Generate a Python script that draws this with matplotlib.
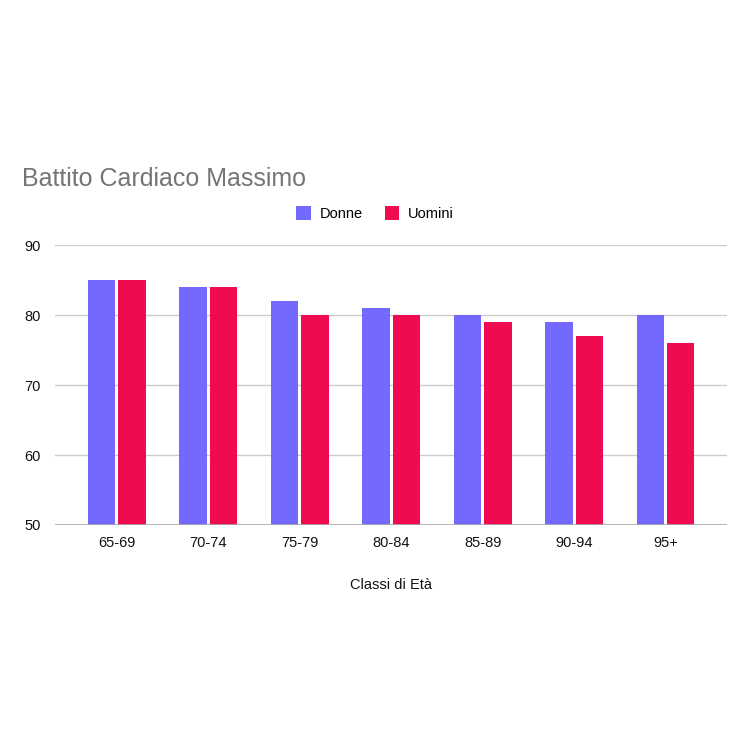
import numpy as np
import matplotlib.pyplot as plt

plt.rcParams["font.family"] = ["Liberation Sans", "DejaVu Sans"]

categories = ["65-69", "70-74", "75-79", "80-84", "85-89", "90-94", "95+"]
donne = [85, 84, 82, 81, 80, 79, 80]
uomini = [85, 84, 80, 80, 79, 77, 76]

COL_DONNE = "#7469FF"
COL_UOMINI = "#F00B51"

fig = plt.figure(figsize=(7.5, 7.5), dpi=100)
ax = fig.add_axes([0.073, 0.30, 0.896, 0.373])

x = np.arange(len(categories))
w = 0.30
gap = 0.017
ax.bar(x - w / 2 - gap, donne, width=w, color=COL_DONNE, label="Donne", zorder=3)
ax.bar(x + w / 2 + gap, uomini, width=w, color=COL_UOMINI, label="Uomini", zorder=3)

ax.set_ylim(50, 90)
ax.set_yticks([50, 60, 70, 80, 90])
ax.set_xlim(-0.68, 6.67)
ax.set_xticks(x)
ax.set_xticklabels(categories)
ax.tick_params(axis="both", length=0, labelsize=10.5, colors="#111111")
ax.tick_params(axis="y", pad=10)
ax.tick_params(axis="x", pad=8)
ax.grid(axis="y", color="#CCCCCC", linewidth=1, zorder=0)
ax.axhline(50, color="#AAAAAA", linewidth=1.2, zorder=4)
for s in ax.spines.values():
    s.set_visible(False)

ax.set_xlabel("Classi di Età", fontsize=10.5, color="#111111", labelpad=20)

fig.text(0.029, 0.752, "Battito Cardiaco Massimo", fontsize=18, color="#757575",
         ha="left", va="baseline")
fig.legend(loc="center", bbox_to_anchor=(0.5, 0.715), ncol=2, frameon=False,
           fontsize=10.5, handlelength=1.0, handleheight=1.1, columnspacing=1.5,
           handletextpad=0.6)

fig.savefig("out.png", dpi=100, facecolor="white")
